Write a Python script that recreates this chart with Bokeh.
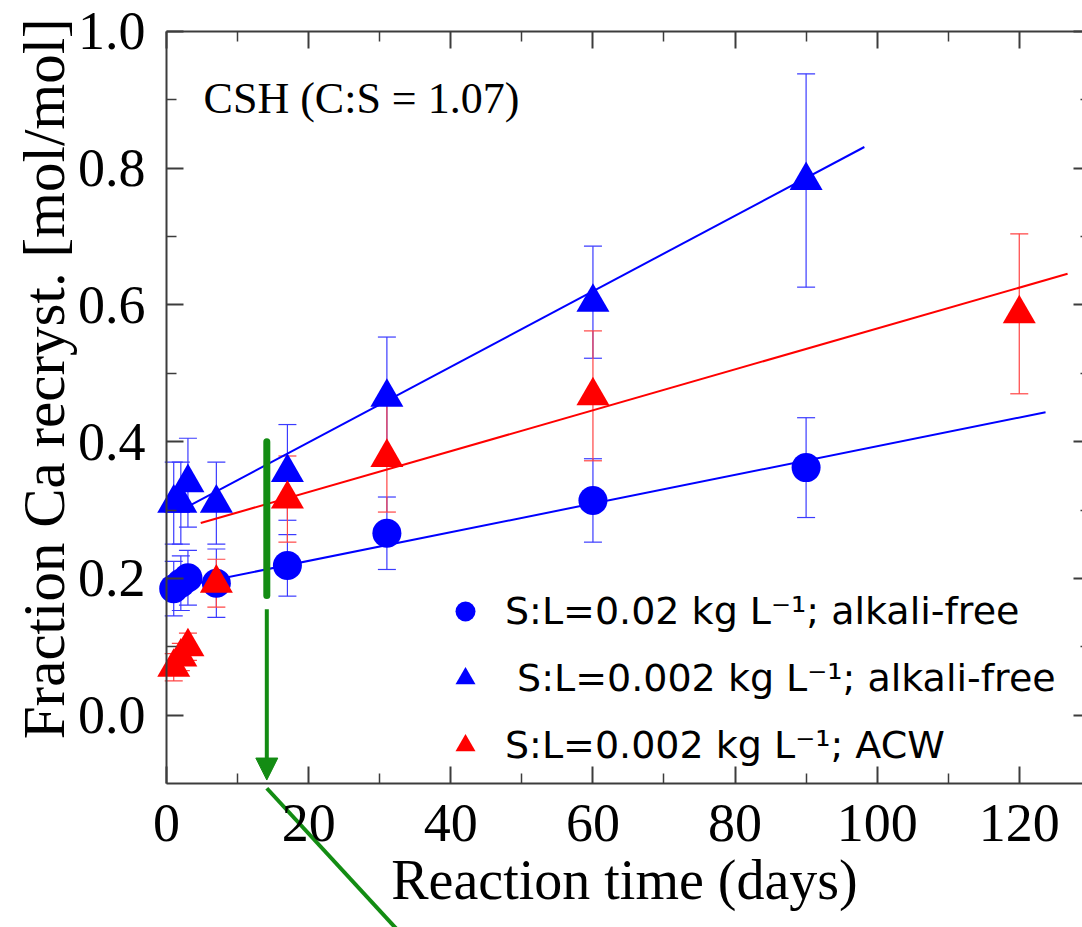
import math
from bokeh.plotting import figure
from bokeh.models import (LinearAxis, FixedTicker, PrintfTickFormatter, ColumnDataSource,
                          Whisker, TeeHead, Arrow, NormalHead, Label, Legend, LegendItem)
from bokeh.embed import file_html
from bokeh.resources import INLINE

# ---------------- data ----------------
days_c = [1, 2, 3, 7, 17, 31, 60, 90]
frac_c = [0.185, 0.193, 0.201, 0.193, 0.219, 0.266, 0.314, 0.362]
err_c = [0.04, 0.04, 0.04, 0.05, 0.045, 0.053, 0.061, 0.073]

days_bt = [1, 2, 3, 7, 17, 31, 60, 90]
frac_bt = [0.31, 0.31, 0.34, 0.31, 0.355, 0.465, 0.604, 0.782]
err_bt = [0.06, 0.06, 0.065, 0.06, 0.07, 0.088, 0.082, 0.156]

days_rt = [1, 2, 3, 7, 17, 31, 60, 120]
frac_rt = [0.07, 0.085, 0.10, 0.193, 0.316, 0.377, 0.467, 0.587]
err_rt = [0.02, 0.02, 0.02, 0.035, 0.063, 0.08, 0.095, 0.117]

fit_c_x = [3.0, 123.7]
fit_c_y = [0.19, 0.443]
fit_bt_x = [3.5, 98.2]
fit_bt_y = [0.308, 0.831]
fit_rt_x = [4.8, 126.8]
fit_rt_y = [0.281, 0.6455]

labels = ["S:L=0.02 kg L\u207b\u00b9; alkali-free",
          " S:L=0.002 kg L\u207b\u00b9; alkali-free",
          "S:L=0.002 kg L\u207b\u00b9; ACW"]

x_ticks = [0, 20, 40, 60, 80, 100, 120]
x_minor = [10, 30, 50, 70, 90, 110]
y_ticks = [0.0, 0.2, 0.4, 0.6, 0.8, 1.0]
y_minor = [0.1, 0.3, 0.5, 0.7, 0.9]

# annotation (green arrow)
arrow_day = 14.1
bar_top, bar_bottom = 0.40, 0.175
arrow_top, arrow_tip = 0.155, -0.095
diag_start = (14.1, -0.107)
diag_end = (33.0, -0.32)

BLUE = "#0000ff"
RED = "#ff0000"
GREEN = "#138c13"
AX = "#3c3c3c"
SERIF = "Liberation Serif"

X_MIN, X_MAX = 0.0, 128.9
Y_MIN, Y_MAX = -0.1, 1.0

# the frame spans the whole canvas; the axes sit at fixed data locations inside it
p = figure(width=1082, height=927, x_range=(-23.38, X_MAX), y_range=(-0.3107, 1.0453),
           output_backend="svg", toolbar_location=None,
           x_axis_location=None, y_axis_location=None,
           min_border_left=0, min_border_top=0, min_border_bottom=0, min_border_right=0)
p.grid.visible = False
p.outline_line_color = None
p.background_fill_color = "white"
p.border_fill_color = "white"


def style_axis(ax, ticks, minor, labels_on=True, tick_in=17, minor_in=10, line=True):
    ax.ticker = FixedTicker(ticks=ticks, minor_ticks=minor)
    ax.major_tick_in = tick_in
    ax.major_tick_out = 0
    ax.minor_tick_in = minor_in
    ax.minor_tick_out = 0
    ax.major_tick_line_color = AX
    ax.minor_tick_line_color = AX
    ax.major_tick_line_width = 2
    ax.minor_tick_line_width = 1.5
    ax.axis_line_color = AX if line else None
    ax.axis_line_width = 2
    if labels_on:
        ax.major_label_text_font = SERIF
        ax.major_label_text_font_size = "54px"
        ax.major_label_text_color = "black"
    else:
        ax.major_label_text_font_size = "0px"
        ax.major_label_text_color = None
        ax.major_label_standoff = 0


bottom = LinearAxis(axis_label="Reaction time (days)", fixed_location=Y_MIN,
                    bounds=(X_MIN, X_MAX))
style_axis(bottom, x_ticks, x_minor)
bottom.major_label_standoff = 22
bottom.axis_label_text_font = SERIF
bottom.axis_label_text_font_size = "56px"
bottom.axis_label_text_font_style = "normal"
bottom.axis_label_text_color = "black"
bottom.axis_label_standoff = 4
p.add_layout(bottom, "below")

left = LinearAxis(fixed_location=X_MIN, bounds=(Y_MIN, Y_MAX))
style_axis(left, y_ticks, y_minor)
left.formatter = PrintfTickFormatter(format="%.1f")
left.major_label_standoff = 21
p.add_layout(left, "left")

top = LinearAxis(fixed_location=Y_MAX, bounds=(X_MIN, X_MAX))
style_axis(top, x_ticks, x_minor, labels_on=False)
p.add_layout(top, "above")

right = LinearAxis(fixed_location=X_MAX, bounds=(Y_MIN, Y_MAX))
style_axis(right, y_ticks, y_minor, labels_on=False, tick_in=9, minor_in=2, line=False)
p.add_layout(right, "right")

# y axis title as a rotated label (placed like the original)
p.add_layout(Label(x=-17.2, y=0.492, text="Fraction Ca recryst. [mol/mol]",
                   angle=math.pi / 2, text_font=SERIF, text_font_size="59px",
                   text_align="center", text_baseline="middle", text_color="black"))


def add_series(days, frac, err, color, err_color, fx, fy):
    src = ColumnDataSource(dict(x=days, y=frac,
                                lo=[v - e for v, e in zip(frac, err)],
                                hi=[v + e for v, e in zip(frac, err)]))
    w = Whisker(source=src, base="x", upper="hi", lower="lo",
                line_color=err_color, line_width=1.2,
                upper_head=TeeHead(size=18, line_color=err_color, line_width=1.2),
                lower_head=TeeHead(size=18, line_color=err_color, line_width=1.2))
    p.add_layout(w)
    p.line(fx, fy, line_color=color, line_width=2)
    return src


src_c = add_series(days_c, frac_c, err_c, BLUE, "#3b3bff", fit_c_x, fit_c_y)
src_bt = add_series(days_bt, frac_bt, err_bt, BLUE, "#3b3bff", fit_bt_x, fit_bt_y)
src_rt = add_series(days_rt, frac_rt, err_rt, RED, "#ff4444", fit_rt_x, fit_rt_y)

r_c = p.scatter("x", "y", source=src_c, marker="circle", size=29,
                fill_color=BLUE, line_color=BLUE, line_width=0)
r_bt = p.scatter("x", "y", source=src_bt, marker="triangle", size=33,
                 fill_color=BLUE, line_color=BLUE, line_width=0)
r_rt = p.scatter("x", "y", source=src_rt, marker="triangle", size=33,
                 fill_color=RED, line_color=RED, line_width=0)

# green annotation
p.segment(x0=[arrow_day], y0=[bar_top], x1=[arrow_day], y1=[bar_bottom],
          line_color=GREEN, line_width=7, line_cap="round")
p.add_layout(Arrow(x_start=arrow_day, y_start=arrow_top, x_end=arrow_day, y_end=arrow_tip,
                   line_color=GREEN, line_width=4,
                   end=NormalHead(size=22, fill_color=GREEN, line_color=GREEN, line_width=1)))
p.segment(x0=[diag_start[0]], y0=[diag_start[1]], x1=[diag_end[0]], y1=[diag_end[1]],
          line_color=GREEN, line_width=4)

p.add_layout(Label(x=5.2, y=0.902, text="CSH (C:S = 1.07)", text_font=SERIF,
                   text_font_size="44px", text_baseline="alphabetic", text_color="black"))

legend = Legend(items=[LegendItem(label=labels[0], renderers=[r_c]),
                       LegendItem(label=labels[1], renderers=[r_bt]),
                       LegendItem(label=labels[2], renderers=[r_rt])],
                location=(440, 157), orientation="vertical",
                glyph_width=50, glyph_height=50, spacing=17, padding=0, margin=0,
                label_standoff=15, label_text_font="DejaVu Sans",
                label_text_font_size="38px", label_text_color="black",
                background_fill_alpha=0, border_line_alpha=0)
p.add_layout(legend)

open("out.html", "w").write(file_html(p, INLINE))
